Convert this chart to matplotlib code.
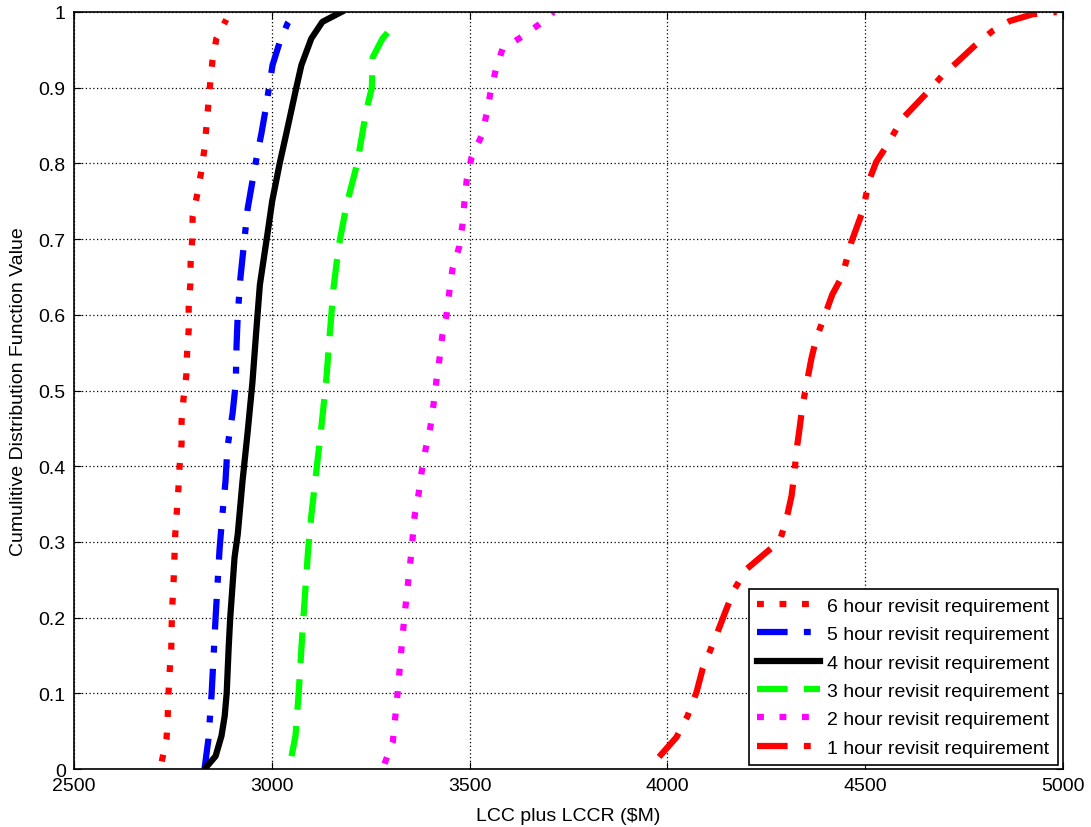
import matplotlib
matplotlib.use("Agg")
import matplotlib.pyplot as plt

plt.rcParams['font.family'] = ['Liberation Sans', 'DejaVu Sans']
plt.rcParams['font.size'] = 14

# x = LCC plus LCCR ($M), y = CDF value
h6_x = [2722, 2734, 2737, 2739, 2742, 2746, 2747, 2749, 2752, 2754, 2756, 2760, 2764, 2767,
        2772, 2772, 2777, 2784, 2786, 2790, 2790, 2794, 2795, 2799, 2800, 2812, 2822, 2830,
        2835, 2840, 2845, 2850, 2860, 2885]
h6_y = [0.01, 0.04, 0.07, 0.10, 0.13, 0.16, 0.19, 0.22, 0.25, 0.28, 0.31, 0.34, 0.37, 0.40,
        0.43, 0.46, 0.49, 0.52, 0.55, 0.58, 0.61, 0.64, 0.67, 0.70, 0.73, 0.76, 0.79, 0.82,
        0.85, 0.88, 0.91, 0.935, 0.965, 0.99]

h5_x = [2830, 2840, 2848, 2858, 2868, 2875, 2883, 2888, 2901, 2909, 2911, 2914, 2921, 2929,
        2939, 2959, 2974, 2984, 3002, 3020, 3040, 3060]
h5_y = [0.0, 0.04, 0.10, 0.20, 0.29, 0.335, 0.38, 0.425, 0.47, 0.51, 0.56, 0.60, 0.65, 0.69,
        0.74, 0.80, 0.84, 0.87, 0.93, 0.96, 0.985, 1.0]

h4_x = [2835, 2858, 2873, 2881, 2886, 2891, 2895, 2906, 2914, 2926, 2939, 2951, 2961, 2970,
        2990, 3001, 3020, 3037, 3062, 3075, 3100, 3128, 3176]
h4_y = [0.003, 0.017, 0.044, 0.07, 0.10, 0.16, 0.20, 0.28, 0.31, 0.38, 0.445, 0.51, 0.58, 0.64,
        0.71, 0.75, 0.80, 0.84, 0.90, 0.93, 0.965, 0.987, 1.0]

h3_x = [3050, 3060, 3068, 3075, 3080, 3092, 3100, 3113, 3126, 3138, 3146, 3156, 3169, 3189,
        3216, 3239, 3253, 3255, 3280, 3318]
h3_y = [0.017, 0.044, 0.10, 0.16, 0.20, 0.29, 0.335, 0.395, 0.455, 0.515, 0.57, 0.635, 0.69,
        0.745, 0.80, 0.87, 0.90, 0.94, 0.965, 0.988]

h2_x = [3285, 3306, 3318, 3328, 3335, 3351, 3356, 3361, 3371, 3379, 3389, 3401, 3409, 3416,
        3424, 3431, 3442, 3449, 3457, 3474, 3482, 3487, 3493, 3505, 3530, 3543, 3553, 3566,
        3583, 3631, 3674, 3712]
h2_y = [0.007, 0.036, 0.10, 0.16, 0.20, 0.277, 0.305, 0.334, 0.363, 0.393, 0.423, 0.452, 0.482,
        0.512, 0.542, 0.572, 0.601, 0.631, 0.661, 0.690, 0.719, 0.749, 0.779, 0.808, 0.836,
        0.865, 0.894, 0.923, 0.951, 0.967, 0.983, 1.0]

h1_x = [3979, 4023, 4051, 4074, 4089, 4107, 4127, 4149, 4170, 4200, 4245, 4284, 4301, 4314,
        4321, 4326, 4334, 4341, 4351, 4364, 4376, 4397, 4417, 4442, 4465, 4493, 4511, 4528,
        4553, 4594, 4654, 4695, 4733, 4776, 4822, 4865, 4923, 4984]
h1_y = [0.016, 0.042, 0.070, 0.102, 0.132, 0.155, 0.181, 0.211, 0.238, 0.264, 0.284, 0.301,
        0.330, 0.361, 0.390, 0.419, 0.449, 0.478, 0.506, 0.542, 0.568, 0.598, 0.627, 0.651,
        0.696, 0.736, 0.779, 0.802, 0.822, 0.859, 0.892, 0.916, 0.934, 0.955, 0.975, 0.988,
        0.997, 1.0]

labels = ['6 hour revisit requirement', '5 hour revisit requirement',
          '4 hour revisit requirement', '3 hour revisit requirement',
          '2 hour revisit requirement', '1 hour revisit requirement']

dotted = (0, (1.1, 2.5))
dashed = (0, (4.9, 2.6))
dashdot = (0, (4.9, 2.6, 1.1, 2.6))

fig = plt.figure(figsize=(10.91, 8.28), dpi=100)
ax = fig.add_axes([0.0678, 0.070, 0.9065, 0.9143])

lw = 4.5
ax.plot(h6_x, h6_y, color=(1, 0, 0), linestyle=dotted, lw=lw, dash_capstyle='butt', label=labels[0])
ax.plot(h5_x, h5_y, color=(0, 0, 1), linestyle=dashdot, lw=lw, dash_capstyle='butt', label=labels[1])
ax.plot(h4_x, h4_y, color='black', linestyle='-', lw=lw, label=labels[2])
ax.plot(h3_x, h3_y, color=(0, 1, 0), linestyle=dashed, lw=lw, dash_capstyle='butt', label=labels[3])
ax.plot(h2_x, h2_y, color=(1, 0, 1), linestyle=dotted, lw=lw, dash_capstyle='butt', label=labels[4])
ax.plot(h1_x, h1_y, color=(1, 0, 0), linestyle=dashdot, lw=lw, dash_capstyle='butt', label=labels[5])

ax.set_xlim(2500, 5000)
ax.set_ylim(0, 1)
ax.set_xticks([2500, 3000, 3500, 4000, 4500, 5000])
ax.set_yticks([i / 10 for i in range(11)])
ax.set_yticklabels(['0', '0.1', '0.2', '0.3', '0.4', '0.5', '0.6', '0.7', '0.8', '0.9', '1'])
ax.tick_params(direction='in', top=True, right=True, length=5, width=0.8, pad=6)
ax.grid(True, color='black', linestyle=(0, (1, 2)), linewidth=0.9)
for s in ax.spines.values():
    s.set_linewidth(1.2)

ax.set_xlabel('LCC plus LCCR ($M)', labelpad=9)
ax.set_ylabel('Cumulitive Distribution Function Value', labelpad=8)

leg = ax.legend(loc='lower right', bbox_to_anchor=(0.9945, 0.005), fancybox=False,
                edgecolor='black', framealpha=1, handlelength=3.2, handletextpad=0.35,
                labelspacing=0.55, borderpad=0.45, borderaxespad=0)
leg.get_frame().set_linewidth(1.2)

fig.savefig('out.png', dpi=100)
